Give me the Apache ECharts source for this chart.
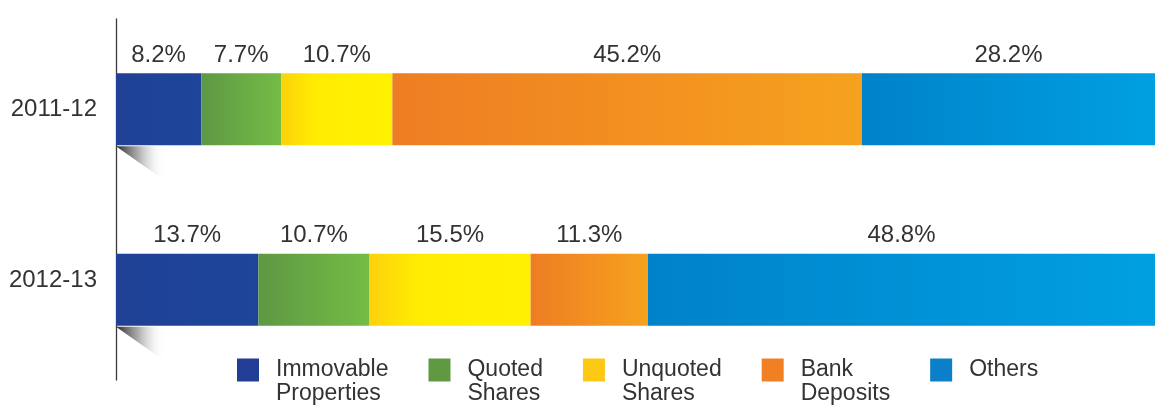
<!DOCTYPE html>
<html>
<head>
<meta charset="utf-8">
<script src="https://cdn.jsdelivr.net/npm/echarts@6/dist/echarts.min.js"></script>
<style>
  html, body { margin: 0; padding: 0; background: #ffffff; }
  #chart { width: 1155px; height: 408px; }
</style>
</head>
<body>
<div id="chart"></div>
<script>
// Asset allocation by year (percent of total)
const years = ['2011-12', '2012-13'];
const immovableProperties = [8.2, 13.7];
const quotedShares = [7.7, 10.7];
const unquotedShares = [10.7, 15.5];
const bankDeposits = [45.2, 11.3];
const others = [28.2, 48.8];

const seriesNames = ['Immovable\nProperties', 'Quoted\nShares', 'Unquoted\nShares', 'Bank\nDeposits', 'Others'];
const seriesValues = [immovableProperties, quotedShares, unquotedShares, bankDeposits, others];

// bar gradient stops (left -> right) and legend swatch colours
const barGradients = [
  [[0, '#1f4196'], [1, '#1d4599']],
  [[0, '#5e9844'], [1, '#74bc45']],
  [[0, '#fdd10c'], [0.3, '#ffec02'], [1, '#fff200']],
  [[0, '#ee7d23'], [1, '#f6a21e']],
  [[0, '#0082ca'], [1, '#00a0e0']]
];
const legendColors = ['#233f95', '#5f9a42', '#fdc914', '#f08023', '#0b7fc9'];

const FONT = '"Liberation Sans", Arial, Helvetica, sans-serif';
const TEXT = '#333333';
const BAR_W = 72;

const chart = echarts.init(document.getElementById('chart'), null, { renderer: 'canvas' });

function grad(stops) {
  return new echarts.graphic.LinearGradient(0, 0, 1, 0,
    stops.map(s => ({ offset: s[0], color: s[1] })));
}

const barSeries = seriesNames.map((name, i) => ({
  name: name,
  type: 'bar',
  stack: 'total',
  barWidth: BAR_W,
  z: 3,
  itemStyle: { color: grad(barGradients[i]) },
  label: {
    show: true,
    position: 'top',
    distance: 6,
    fontFamily: FONT,
    fontSize: 24,
    color: TEXT,
    formatter: p => p.value.toFixed(1) + '%'
  },
  emphasis: { disabled: true },
  data: seriesValues[i]
}));

// folded-ribbon shadow under the left end of each bar
const shadowSeries = {
  type: 'custom',
  name: 'shadow',
  z: 1,
  silent: true,
  renderItem: function (params, api) {
    const p = api.coord([0, api.value(1)]);
    const x = p[0];
    const yb = p[1] + BAR_W / 2 + 1;
    return {
      type: 'polygon',
      shape: { points: [[x, yb], [x + 54, yb], [x + 54, yb + 38]] },
      style: {
        fill: new echarts.graphic.LinearGradient(0, 0, 1, 0, [
          { offset: 0, color: 'rgba(40,40,40,1)' },
          { offset: 0.4, color: 'rgba(140,140,140,0.75)' },
          { offset: 0.9, color: 'rgba(255,255,255,0)' }
        ])
      }
    };
  },
  data: years.map(y => [0, y])
};

const option = {
  backgroundColor: '#ffffff',
  animation: false,
  grid: { left: 116, top: 19, height: 361, width: 1053, containLabel: false },
  xAxis: {
    type: 'value',
    min: 0,
    max: 100,
    show: false
  },
  yAxis: {
    type: 'category',
    data: years,
    inverse: true,
    offset: 1,
    axisLine: { show: true, lineStyle: { color: '#3a3a3a', width: 1.3 } },
    axisTick: { show: false },
    splitLine: { show: false },
    axisLabel: {
      margin: 18,
      fontFamily: FONT,
      fontSize: 24,
      color: TEXT,
      formatter: (v, i) => i === 1 ? '{up|' + v + '}' : '{n|' + v + '}',
      rich: {
        n: { fontFamily: FONT, fontSize: 24, color: TEXT },
        up: { fontFamily: FONT, fontSize: 24, color: TEXT, padding: [0, 0, 18, 0] }
      }
    }
  },
  legend: {
    left: 237,
    top: 334,
    padding: 0,
    itemGap: 40,
    itemWidth: 22,
    itemHeight: 23,
    selectedMode: false,
    icon: 'rect',
    // a leading blank line keeps the first text line level with the swatch
    formatter: name => name.indexOf('\n') >= 0 ? ' \n' + name : name,
    textStyle: {
      fontFamily: FONT,
      fontSize: 23,
      lineHeight: 24,
      color: TEXT,
      padding: [0, 0, 0, 12]
    },
    data: seriesNames.map((n, i) => ({ name: n, itemStyle: { color: legendColors[i] } }))
  },
  series: [shadowSeries].concat(barSeries)
};

chart.setOption(option);
</script>
</body>
</html>
